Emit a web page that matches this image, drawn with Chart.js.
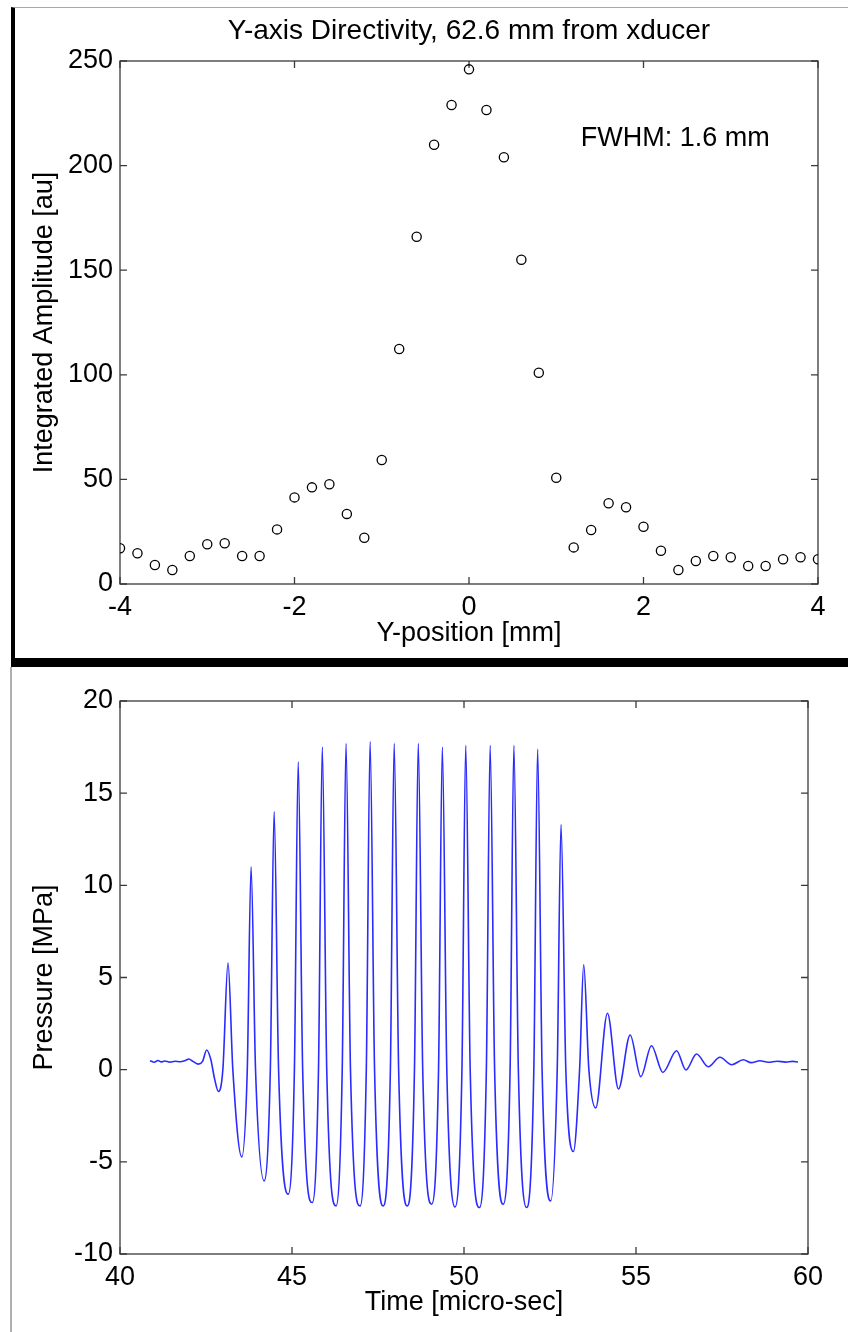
<!DOCTYPE html>
<html lang="en">

<head>
   <meta charset="UTF-8">
   <title>Y-axis Directivity / Pressure</title>
   <style>
      body { margin: 0; background: #fff; width: 848px; height: 1332px; position: relative; overflow: hidden; }
      .top-panel { position: absolute; left: 11px; top: 7px; width: 833px; height: 650px;
         border-top: 1px solid #a8a8a8; border-left: 4px solid #000; border-bottom: 9px solid #000; }
      .bottom-rule { position: absolute; left: 10px; top: 667px; width: 2px; height: 665px; background: #b0b0b0; }
      canvas { position: absolute; left: 0; }
      #directivity { top: 0; }
      #pressure { top: 667px; }
   </style>
</head>

<body>
   <script src="https://cdn.jsdelivr.net/npm/chart.js"></script>

   <div class="top-panel"></div>
   <div class="bottom-rule"></div>
   <canvas id="directivity" width="848" height="660"></canvas>
   <canvas id="pressure" width="848" height="665"></canvas>

   <script>
      //*************************  DATA  *****************//

      // top plot: integrated amplitude vs y-position
      const yPosition = [-4, -3.8, -3.6, -3.4, -3.2, -3, -2.8, -2.6, -2.4, -2.2, -2, -1.8, -1.6, -1.4, -1.2, -1,
         -0.8, -0.6, -0.4, -0.2, 0, 0.2, 0.4, 0.6, 0.8, 1, 1.2, 1.4, 1.6, 1.8, 2, 2.2, 2.4, 2.6, 2.8, 3,
         3.2, 3.4, 3.6, 3.8, 4];
      const amplitude = [17.1, 14.7, 9.1, 6.7, 13.4, 19, 19.5, 13.4, 13.4, 26.1, 41.4, 46.2, 47.7, 33.5, 22.1, 59.3,
         112.3, 166, 210, 229, 246, 226.6, 204, 155, 101, 50.8, 17.5, 25.8, 38.6, 36.7, 27.4, 15.9, 6.7, 11,
         13.4, 12.8, 8.6, 8.6, 11.8, 12.8, 11.8];
      const yPosTicks = [-4, -2, 0, 2, 4];
      const amplitudeTicks = [0, 50, 100, 150, 200, 250];
      const fwhmNote = 'FWHM: 1.6 mm';
      const fwhmAt = [1.28, 213];

      // bottom plot: pressure waveform (peaks, troughs and crossings)
      const timeUs = [40.87, 41.0, 41.1, 41.2, 41.3, 41.45, 41.6, 41.75, 41.9, 42.0, 42.12, 42.28, 42.4, 42.52, 42.64, 42.75,
         42.86, 42.99, 43.14, 43.28, 43.54, 43.70, 43.81, 43.94, 44.19, 44.37, 44.48, 44.61, 44.89, 45.07, 45.18, 45.31,
         45.59, 45.77, 45.88, 46.01, 46.28, 46.46, 46.57, 46.70, 46.98, 47.16, 47.27, 47.40, 47.65, 47.86, 47.97, 48.10,
         48.35, 48.56, 48.67, 48.80, 49.06, 49.26, 49.37, 49.50, 49.74, 49.94, 50.05, 50.18, 50.45, 50.65, 50.76, 50.89,
         51.14, 51.34, 51.45, 51.58, 51.82, 52.03, 52.14, 52.27, 52.52, 52.71, 52.82, 52.96, 53.18, 53.36, 53.48, 53.63,
         53.83, 54.17, 54.49, 54.83, 55.14, 55.45, 55.78, 56.18, 56.45, 56.76, 57.10, 57.44, 57.78, 58.12, 58.35, 58.6,
         58.85, 59.1, 59.35, 59.55, 59.71];
      const pressureMPa = [0.49, 0.40, 0.50, 0.42, 0.47, 0.41, 0.46, 0.43, 0.50, 0.58, 0.45, 0.30, 0.45, 1.07, 0.55, -0.5,
         -1.18, 0, 5.8, 0, -4.73, 0, 11.0, 0, -6.03, 0, 14.0, 0, -6.76, 0, 16.7, 0,
         -7.21, 0, 17.5, 0, -7.39, 0, 17.7, 0, -7.39, 0, 17.8, 0, -7.39, 0, 17.7, 0,
         -7.39, 0, 17.7, 0, -7.30, 0, 17.5, 0, -7.45, 0, 17.6, 0, -7.48, 0, 17.6, 0,
         -7.30, 0, 17.6, 0, -7.48, 0, 17.4, 0, -7.12, 0, 13.3, 0, -4.44, 0, 5.7, 0,
         -2.08, 3.06, -1.05, 1.88, -0.38, 1.30, -0.15, 1.03, -0.02, 0.85, 0.16, 0.67, 0.27, 0.54, 0.38, 0.48,
         0.40, 0.46, 0.41, 0.45, 0.42];
      const timeTicks = [40, 45, 50, 55, 60];
      const pressureTicks = [-10, -5, 0, 5, 10, 15, 20];

      //*************************  STYLE  *****************//

      const FONT = { family: 'Arial, "Liberation Sans", Helvetica, sans-serif', size: 27 };
      const AXIS_COLOR = '#3a3a3a';

      Chart.defaults.font.family = FONT.family;
      Chart.defaults.font.size = FONT.size;
      Chart.defaults.color = '#000';

      // MATLAB style box with inward ticks on all four sides
      const boxAxes = {
         id: 'boxAxes',
         beforeDatasetsDraw(chart) {
            const { ctx, chartArea: a, scales: { x, y } } = chart;
            ctx.save();
            ctx.strokeStyle = AXIS_COLOR;
            ctx.lineWidth = 1.3;
            ctx.strokeRect(a.left, a.top, a.right - a.left, a.bottom - a.top);
            ctx.beginPath();
            x.ticks.forEach(t => {
               const px = x.getPixelForValue(t.value);
               ctx.moveTo(px, a.bottom); ctx.lineTo(px, a.bottom - 7);
               ctx.moveTo(px, a.top); ctx.lineTo(px, a.top + 7);
            });
            y.ticks.forEach(t => {
               const py = y.getPixelForValue(t.value);
               ctx.moveTo(a.left, py); ctx.lineTo(a.left + 7, py);
               ctx.moveTo(a.right, py); ctx.lineTo(a.right - 7, py);
            });
            ctx.stroke();
            ctx.restore();
         }
      };

      const fwhmLabel = {
         id: 'fwhmLabel',
         afterDatasetsDraw(chart) {
            const { ctx, scales: { x, y } } = chart;
            ctx.save();
            ctx.font = FONT.size + 'px ' + FONT.family;
            ctx.fillStyle = '#000';
            ctx.textAlign = 'left';
            ctx.textBaseline = 'middle';
            ctx.fillText(fwhmNote, x.getPixelForValue(fwhmAt[0]), y.getPixelForValue(fwhmAt[1]));
            ctx.restore();
         }
      };

      function axis(min, max, tickValues, title, opts) {
         return {
            type: 'linear',
            min: min,
            max: max,
            afterBuildTicks: s => { s.ticks = tickValues.map(v => ({ value: v })); },
            afterFit: opts.fit,
            grid: { display: false, drawTicks: false },
            border: { display: false },
            ticks: { padding: opts.pad, maxRotation: 0, autoSkip: false, color: '#000' },
            title: { display: true, text: title, color: '#000', padding: opts.titlePad }
         };
      }

      //*************************  Y-AXIS DIRECTIVITY  *****************//

      new Chart(document.getElementById('directivity'), {
         type: 'scatter',
         data: {
            datasets: [{
               data: yPosition.map((v, i) => ({ x: v, y: amplitude[i] })),
               pointStyle: 'circle',
               pointRadius: 4.6,
               pointBorderWidth: 1.3,
               borderColor: '#000',
               backgroundColor: 'rgba(0,0,0,0)'
            }]
         },
         options: {
            responsive: false,
            animation: false,
            layout: { padding: { left: 0, right: 30, top: 0, bottom: 0 } },
            plugins: {
               legend: { display: false },
               tooltip: { enabled: false },
               title: {
                  display: true,
                  fullSize: false,
                  text: 'Y-axis Directivity, 62.6 mm from xducer',
                  color: '#000',
                  font: { size: 28, weight: 'normal' },
                  padding: { top: 14.5, bottom: 12.9 }
               }
            },
            scales: {
               x: axis(-4, 4, yPosTicks, 'Y-position [mm]',
                  { fit: s => { s.height = 76; }, pad: 7, titlePad: { top: 0, bottom: 9.8 } }),
               y: axis(0, 250, amplitudeTicks, 'Integrated Amplitude [au]',
                  { fit: s => { s.width = 120; }, pad: 7, titlePad: { top: 28.8, bottom: 0 } })
            }
         },
         plugins: [boxAxes, fwhmLabel]
      });

      //*************************  PRESSURE WAVEFORM  *****************//

      new Chart(document.getElementById('pressure'), {
         type: 'scatter',
         data: {
            datasets: [{
               data: timeUs.map((t, i) => ({ x: t, y: pressureMPa[i] })),
               showLine: true,
               borderColor: '#2b2bff',
               borderWidth: 1.6,
               pointRadius: 0,
               cubicInterpolationMode: 'monotone'
            }]
         },
         options: {
            responsive: false,
            animation: false,
            layout: { padding: { left: 0, right: 40, top: 34, bottom: 0 } },
            plugins: { legend: { display: false }, tooltip: { enabled: false } },
            scales: {
               x: axis(40, 60, timeTicks, 'Time [micro-sec]',
                  { fit: s => { s.height = 78; }, pad: 7, titlePad: { top: 0, bottom: 12.8 } }),
               y: axis(-10, 20, pressureTicks, 'Pressure [MPa]',
                  { fit: s => { s.width = 120; }, pad: 7, titlePad: { top: 28.8, bottom: 0 } })
            }
         },
         plugins: [boxAxes]
      });
   </script>
</body>

</html>
